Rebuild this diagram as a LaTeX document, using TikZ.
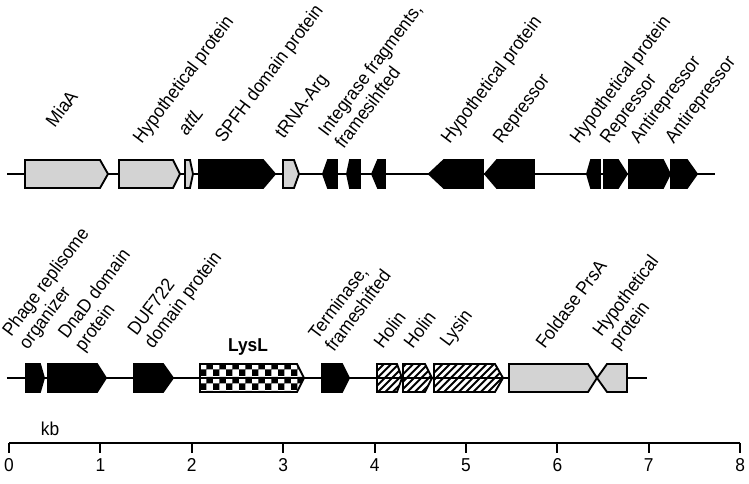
\documentclass[tikz,border=0pt]{standalone}
\usepackage{fontspec}
\setmainfont{Liberation Sans}[FakeStretch=0.93]
\usepackage{xcolor}
\usepackage{tikz}
\usetikzlibrary{patterns}
\definecolor{genegrey}{HTML}{D3D3D3}

% fill patterns for the lysis cassette
\pgfdeclarepatternformonly{lyscheck}{\pgfpointorigin}{\pgfqpoint{10pt}{10pt}}{\pgfqpoint{10pt}{10pt}}{%
  \pgfpathrectangle{\pgfpointorigin}{\pgfqpoint{5.05pt}{5.05pt}}%
  \pgfpathrectangle{\pgfqpoint{5pt}{5pt}}{\pgfqpoint{5.05pt}{5.05pt}}%
  \pgfusepath{fill}}
\pgfdeclarepatternformonly{holinhatch}{\pgfqpoint{-1pt}{-1pt}}{\pgfqpoint{6.5pt}{6.5pt}}{\pgfqpoint{5.5pt}{5.5pt}}{%
  \pgfsetlinewidth{1.5pt}%
  \pgfpathmoveto{\pgfqpoint{0pt}{0pt}}%
  \pgfpathlineto{\pgfqpoint{5.6pt}{5.6pt}}%
  \pgfusepath{stroke}}

% gene arrows: [style]{start}{body end}{tip} and [style]{tip}{body start}{end}
\newcommand{\rgene}[4][]{\draw[gene,#1] (#2,-14) -- (#3,-14) -- (#4,0) -- (#3,14) -- (#2,14) -- cycle;}
\newcommand{\lgene}[4][]{\draw[gene,#1] (#2,0) -- (#3,-14) -- (#4,-14) -- (#4,14) -- (#3,14) -- cycle;}

\begin{document}
\begin{tikzpicture}[
  x=68.55pt,y=0.75pt,
  gene/.style={line width=1.4pt,line join=miter},
  greygene/.style={fill=genegrey,draw=black},
  blackgene/.style={fill=black,draw=black},
  checkgene/.style={pattern=lyscheck,draw=black},
  hatchgene/.style={pattern=holinhatch,draw=black},
  backbone/.style={line width=1.1pt},
  lbl/.style={rotate=53,anchor=south west,inner sep=0pt,align=left,
              font=\fontsize{14}{15.5}\selectfont},
  axis/.style={line width=1.5pt},
  num/.style={inner sep=0pt,font=\fontsize{14}{15.5}\selectfont}
]
\useasboundingbox (-0.0985,0) rectangle (8.0963,484);

% upper row
\begin{scope}[shift={(0,310)}]
\coordinate (up-start) at (-0.019,0);
\coordinate (up-end) at (7.724,0);
\draw[backbone] (up-start) -- (up-end);
\rgene[greygene]{0.175}{0.996}{1.083}
\rgene[greygene]{1.203}{1.794}{1.871}
\rgene[greygene]{1.926}{1.980}{2.013}
\rgene[blackgene]{2.079}{2.779}{2.910}
\rgene[greygene]{2.998}{3.118}{3.173}
\lgene[blackgene]{3.435}{3.490}{3.589}
\lgene[blackgene]{3.698}{3.731}{3.840}
\lgene[blackgene]{3.972}{4.037}{4.114}
\lgene[blackgene]{4.595}{4.759}{5.186}
\lgene[blackgene]{5.208}{5.339}{5.744}
\lgene[blackgene]{6.324}{6.368}{6.466}
\rgene[blackgene]{6.510}{6.663}{6.761}
\rgene[blackgene]{6.783}{7.155}{7.232}
\rgene[blackgene]{7.243}{7.418}{7.527}
\node[lbl] (miaa) at (0.503,45) {MiaA};
\node[lbl] (hyp1) at (1.488,27) {Hypothetical protein};
\node[lbl] (attl) at (1.947,37) {\itshape attL};
\node[lbl] (spfh) at (2.385,28) {SPFH domain protein};
\node[lbl] (trna) at (3.042,32) {tRNA-Arg};
\node[lbl] (int) at (3.665,24) {Integrase fragments,\\framesihfted};
\node[lbl] (hyp2) at (4.858,27) {Hypothetical protein};
\node[lbl] (rep1) at (5.427,27) {Repressor};
\node[lbl] (hyp3) at (6.269,27) {Hypothetical protein};
\node[lbl] (rep2) at (6.597,27) {Repressor};
\node[lbl] (anti1) at (6.926,27) {Antirepressor};
\node[lbl] (anti2) at (7.309,27) {Antirepressor};
\end{scope}

% lower row
\begin{scope}[shift={(0,106)}]
\coordinate (lo-start) at (-0.022,0);
\coordinate (lo-end) at (6.980,0);
\draw[backbone] (lo-start) -- (lo-end);
\rgene[blackgene]{0.186}{0.339}{0.383}
\rgene[blackgene]{0.427}{0.963}{1.061}
\rgene[blackgene]{1.368}{1.685}{1.794}
\rgene[checkgene]{2.090}{3.151}{3.228}
\rgene[blackgene]{3.425}{3.643}{3.720}
\rgene[hatchgene]{4.026}{4.245}{4.300}
\rgene[hatchgene]{4.311}{4.551}{4.628}
\rgene[hatchgene]{4.650}{5.317}{5.405}
\rgene[greygene]{5.470}{6.335}{6.433}
\lgene[greygene]{6.433}{6.543}{6.762}
\node[lbl] (repl) at (0.24,25) {Phage replisome\\organizer};
\node[lbl] (dnad) at (0.85,23) {DnaD domain\\protein};
\node[lbl] (duf) at (1.61,26) {DUF722\\domain protein};
\node[num,anchor=base,font=\fontsize{14}{15.5}\selectfont\bfseries] (lysl) at (2.615,26) {LysL};
\node[lbl] (term) at (3.56,25) {Terminase,\\frameshifted};
\node[lbl] (hol1) at (4.092,28) {Holin};
\node[lbl] (hol2) at (4.420,28) {Holin};
\node[lbl] (lysin) at (4.847,28) {Lysin};
\node[lbl] (prsa) at (5.864,28) {Foldase PrsA};
\node[lbl] (hyp4) at (6.70,25) {Hypothetical\\protein};
\end{scope}

% kb scale
\coordinate (ax0) at (0,41);
\coordinate (ax8) at (8,41);
\draw[axis] (ax0) -- (ax8);
\foreach \k in {0,...,8}{
  \draw[axis] (\k,41) -- (\k,31);
  \node[num] (tick\k) at (\k,19) {\k};
}
\node[num] (kb) at (0.449,55) {kb};
\end{tikzpicture}
\end{document}
